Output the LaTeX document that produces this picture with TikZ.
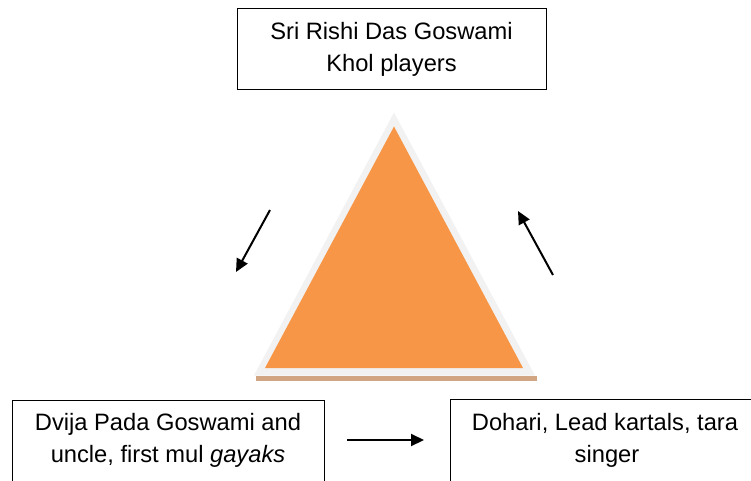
\documentclass[tikz,border=0pt]{standalone}
\usepackage{fontspec}
\setmainfont{Liberation Sans}
\usetikzlibrary{arrows.meta}
\definecolor{triorange}{HTML}{F79646}
\definecolor{trigray}{HTML}{F2F2F2}
\definecolor{tribrown}{HTML}{D3A683}
\tikzset{
  box/.style={draw=black, line width=1pt, fill=white, align=center, inner sep=0pt,
    font=\fontsize{23.7}{32}\selectfont},
  flow/.style={draw=black, line width=2pt, -{Triangle[length=13pt,width=12pt]}}
}
\begin{document}
\begin{tikzpicture}[x=1pt,y=-1pt]
\useasboundingbox (0,0) rectangle (751,480);
% triangle
\fill[trigray] (394,112.5) -- (254,375.5) -- (535,375.5) -- cycle;
\fill[tribrown] (256,375.5) rectangle (537,380.5);
\fill[triorange] (394,126.5) -- (265,368) -- (523,368) -- cycle;
% boxes
\node[box, minimum width=309pt, minimum height=81pt] (rishi) at (391.5,49)
  {Sri Rishi Das Goswami\\Khol players};
\node[box, minimum width=312pt, minimum height=86pt] (dvija) at (168,443)
  {Dvija Pada Goswami and\\uncle, first mul \textit{gayaks}\rule[-11pt]{0pt}{11pt}};
\node[box, minimum width=310pt, minimum height=86pt] (dohari) at (605,442)
  {Dohari, Lead kartals, tara\\\hspace*{4pt}singer\rule[-9pt]{0pt}{9pt}};
% arrows
\coordinate (a1s) at (270,210);
\coordinate (a1e) at (236,272);
\coordinate (a2s) at (553,275);
\coordinate (a2e) at (518,211);
\coordinate (a3s) at (347,440);
\coordinate (a3e) at (424,440);
\draw[flow] (a1s) -- (a1e);
\draw[flow] (a2s) -- (a2e);
\draw[flow] (a3s) -- (a3e);
\end{tikzpicture}
\end{document}
